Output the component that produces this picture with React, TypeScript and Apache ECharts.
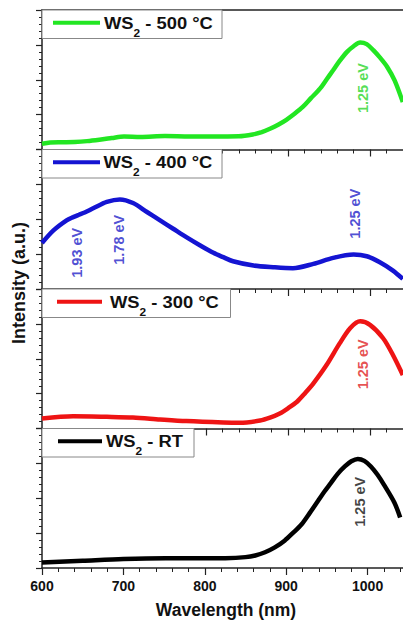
import React, { useEffect, useRef } from "react";
import * as echarts from "echarts";

const FONT = '"Liberation Sans", Arial, Helvetica, sans-serif';

// ---- data (wavelength in nm, intensity in arbitrary units 0-100 per panel) ----
const nm500 = [600, 610, 625, 640, 655, 670, 685, 700, 720, 750, 780, 800, 820, 840, 857, 868, 878, 888, 898, 908, 918, 928, 939, 947, 955, 963, 972, 980, 988, 996, 1004, 1012, 1021, 1030, 1040];
const int500 = [4.1, 5.0, 5.2, 5.4, 6.0, 7.0, 8.2, 9.4, 9.0, 9.6, 9.3, 9.4, 9.4, 9.5, 10.8, 12.5, 14.9, 17.8, 21.3, 25.6, 30.5, 36.8, 43.6, 50.2, 56.8, 63.5, 70, 74, 76.7, 75.5, 71.2, 66, 59.2, 49.5, 34];

const nm400 = [600, 614, 630, 638, 645, 652, 663, 679, 695, 711, 728, 744, 760, 776, 793, 809, 821, 833, 858, 882, 906, 931, 955, 980, 996, 1012, 1028, 1040];
const int400 = [33, 42, 49.2, 51.5, 53.2, 54.8, 58, 62.4, 64.2, 61.6, 55.2, 49.2, 43.2, 37.2, 31.2, 25.9, 22.8, 19.9, 16.8, 15.6, 14.9, 18, 22.3, 24.7, 23.5, 19.2, 13.2, 7.2];

const nm300 = [600, 638, 679, 711, 744, 776, 821, 841, 866, 878, 890, 900, 911, 921, 931, 947, 963, 976, 988, 1000, 1016, 1028, 1040];
const int300 = [7.2, 8.8, 8.4, 7.9, 6.5, 5.3, 4.3, 4.1, 5.7, 7.8, 10.8, 14.5, 19.2, 25.5, 32.4, 45.5, 61, 72, 76.8, 74.3, 64.7, 52.7, 38.3];

const nmRT = [600, 650, 700, 752, 800, 825, 850, 862, 874, 886, 898, 908, 919, 929, 939, 947, 955, 963, 972, 980, 988, 996, 1004, 1012, 1020, 1033, 1040];
const intRT = [4, 5.2, 6.4, 6.9, 6.9, 7.0, 7.8, 9.0, 11.3, 14.8, 19.6, 25, 31.4, 39.5, 48, 54.8, 61, 67.3, 72.8, 76.5, 78.2, 76.8, 72.8, 67, 59.8, 46.8, 36.2];

// peak annotations: [nm, intensity, text]
const peaks500: [number, number, string][] = [[991, 44, "1.25 eV"]];
const peaks400: [number, number, string][] = [[643, 26, "1.93 eV"], [694, 35.3, "1.78 eV"], [982, 54, "1.25 eV"]];
const peaks300: [number, number, string][] = [[991, 46, "1.25 eV"]];
const peaksRT: [number, number, string][] = [[991, 47.5, "1.25 eV"]];

const legendLabels = ["500 °C", "400 °C", "300 °C", "RT"];
const xTicks = [600, 700, 800, 900, 1000];

const COLORS = ["#22e622", "#1414d2", "#ee1414", "#000000"];
const LABEL_COLORS = ["#2ad62a", "#2222c8", "#e02424", "#111111"];

export default function App() {
  const ref = useRef<HTMLDivElement>(null);

  useEffect(() => {
    if (!ref.current) return;
    const chart = echarts.init(ref.current, undefined, { renderer: "svg" });

    const cv = document.createElement("canvas").getContext("2d")!;
    const tw = (t: string, size: number) => {
      cv.font = `bold ${size}px ${FONT}`;
      return cv.measureText(t).width;
    };

    const panels = [
      { nm: nm500, v: int500, peaks: peaks500 },
      { nm: nm400, v: int400, peaks: peaks400 },
      { nm: nm300, v: int300, peaks: peaks300 },
      { nm: nmRT, v: intRT, peaks: peaksRT },
    ];

    const tops = [10, 149.5, 289, 428.5];
    const H = 139.5;

    // chart is 452 px wide (clipped to 403 by wrapper): 600..1100 nm over 410 px
    const grids = tops.map((t) => ({ left: 42, right: 0, top: t, height: H }));

    const xAxes: any[] = tops.map((_, i) => ({
      type: "value",
      gridIndex: i,
      min: 600,
      max: 1100,
      interval: 100,
      position: "bottom",
      axisLine: { show: true, lineStyle: { color: "#222", width: 1.5 } },
      axisTick: { show: true, inside: false, length: 7, lineStyle: { color: "#222", width: 1.2 } },
      minorTick: { show: true, splitNumber: 5, length: 4, lineStyle: { color: "#222", width: 1 } },
      splitLine: { show: false },
      axisLabel: {
        show: i === 3,
        margin: 11,
        fontSize: 14,
        fontWeight: "bold",
        fontFamily: FONT,
        color: "#111",
        formatter: (v: number) => (xTicks.indexOf(v) >= 0 ? String(v) : ""),
      },
    }));
    xAxes.push({
      type: "value",
      gridIndex: 0,
      min: 600,
      max: 1100,
      position: "top",
      axisLine: { show: true, lineStyle: { color: "#222", width: 1.5 } },
      axisTick: { show: false },
      axisLabel: { show: false },
      splitLine: { show: false },
    });

    const yAxes = tops.map((_, i) => ({
      type: "value",
      gridIndex: i,
      min: 0,
      max: 100,
      interval: 25,
      axisLine: { show: true, lineStyle: { color: "#222", width: 1.5 } },
      axisTick: { show: true, inside: false, length: 6, lineStyle: { color: "#222", width: 1.2 } },
      minorTick: { show: true, splitNumber: 5, length: 3, lineStyle: { color: "#222", width: 1 } },
      splitLine: { show: false },
      axisLabel: { show: false },
    }));

    const series: any[] = [];
    panels.forEach((p, i) => {
      series.push({
        type: "line",
        xAxisIndex: i,
        yAxisIndex: i,
        data: p.nm.map((x, k) => [x, p.v[k]]),
        showSymbol: false,
        smooth: 0.3,
        lineStyle: { color: COLORS[i], width: 4.5 },
        z: 2,
      });
      series.push({
        type: "scatter",
        xAxisIndex: i,
        yAxisIndex: i,
        data: p.peaks.map((q) => [q[0], q[1], q[2]]),
        symbolSize: 1,
        itemStyle: { color: "rgba(0,0,0,0)" },
        label: {
          show: true,
          position: "inside",
          rotate: 90,
          formatter: (d: any) => d.data[2],
          fontSize: 14.5,
          fontWeight: "bold",
          fontFamily: FONT,
          color: LABEL_COLORS[i],
        },
        z: 3,
      });
    });

    // legends
    const legendBoxes = [
      { w: 180, lx1: 53, lx2: 100, tx: 104 },
      { w: 180, lx1: 53, lx2: 100, tx: 103.5 },
      { w: 188.5, lx1: 57, lx2: 102, tx: 110 },
      { w: 152, lx1: 58, lx2: 102, tx: 106 },
    ];
    const FS = 17;
    const SUB = 11;
    const SX = 1.08;
    const graphics: any[] = [];
    legendBoxes.forEach((b, i) => {
      const top = tops[i];
      graphics.push({
        type: "rect",
        shape: { x: 42, y: top, width: b.w, height: 28.5 },
        style: { fill: "#fff", stroke: "#888", lineWidth: 1 },
        z: 10,
      });
      graphics.push({
        type: "line",
        shape: { x1: b.lx1, y1: top + 12.7, x2: b.lx2, y2: top + 12.7 },
        style: { stroke: COLORS[i], lineWidth: 4 },
        z: 11,
      });
      const w1 = tw("WS", FS);
      const w2 = tw("2", SUB);
      const textStyle = (t: string, size: number) => ({
        text: t,
        fontSize: size,
        fontWeight: "bold",
        fontFamily: FONT,
        fill: "#111",
        align: "left",
        verticalAlign: "middle",
      });
      graphics.push({
        type: "group",
        x: b.tx,
        y: top + 13,
        scaleX: SX,
        z: 12,
        children: [
          { type: "text", x: 0, y: 0, style: textStyle("WS", FS), z: 12 },
          { type: "text", x: w1, y: 9.8, style: textStyle("2", SUB), z: 12 },
          { type: "text", x: w1 + w2, y: 0, style: textStyle(" - " + legendLabels[i], FS), z: 12 },
        ],
      });
    });

    graphics.push({
      type: "text",
      x: 18.5,
      y: 283,
      rotation: Math.PI / 2,
      style: {
        text: "Intensity (a.u.)",
        fontSize: 18,
        fontWeight: "bold",
        fontFamily: FONT,
        fill: "#111",
        align: "center",
        verticalAlign: "middle",
      },
    });
    graphics.push({
      type: "text",
      x: 226,
      y: 610,
      style: {
        text: "Wavelength (nm)",
        fontSize: 17.5,
        fontWeight: "bold",
        fontFamily: FONT,
        fill: "#111",
        align: "center",
        verticalAlign: "middle",
      },
    });

    chart.setOption({
      animation: false,
      backgroundColor: "#fff",
      grid: grids,
      xAxis: xAxes,
      yAxis: yAxes,
      series,
      graphic: graphics,
    });

    return () => chart.dispose();
  }, []);

  return (
    <div
      style={{ position: "fixed", left: 0, top: 0, width: 403, height: 621, overflow: "hidden", background: "#fff" }}
    >
      <div ref={ref} style={{ width: 452, height: 621 }} />
    </div>
  );
}
